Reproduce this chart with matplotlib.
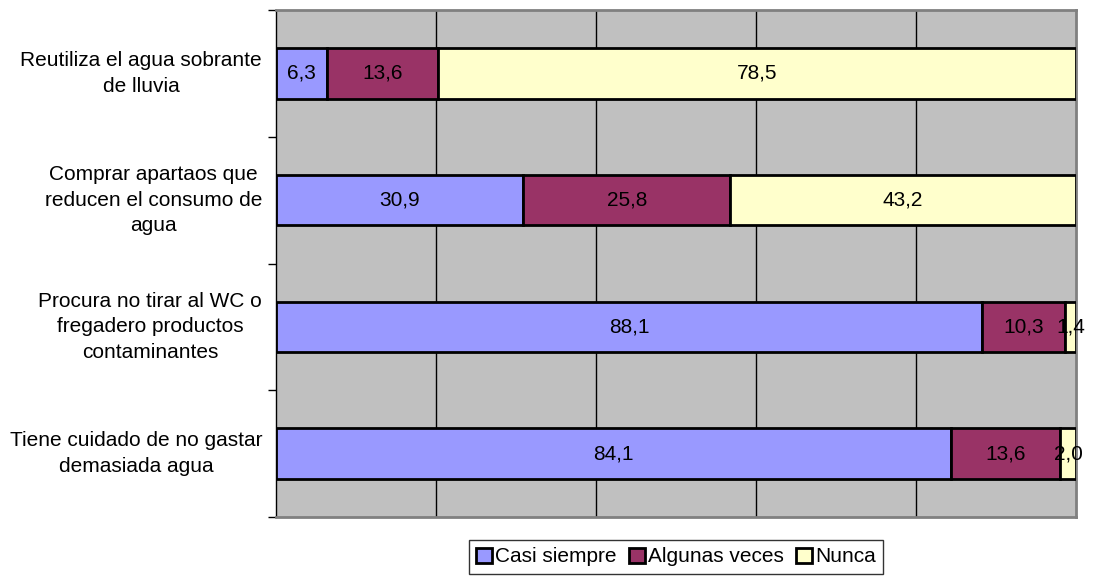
import matplotlib.pyplot as plt
import numpy as np

plt.rcParams['font.family'] = ['Liberation Sans', 'DejaVu Sans']

# preguntas (de arriba abajo)
categorias = ['Reutiliza el agua sobrante\nde lluvia',
              'Comprar apartaos que\nreducen el consumo de\nagua',
              'Procura no tirar al WC o\nfregadero productos\ncontaminantes',
              'Tiene cuidado de no gastar\ndemasiada agua']
casi_siempre = [6.3, 30.9, 88.1, 84.1]
algunas_veces = [13.6, 25.8, 10.3, 13.6]
nunca = [78.5, 43.2, 1.4, 2.0]
series = ['Casi siempre', 'Algunas veces', 'Nunca']
colores = ['#9999FF', '#993366', '#FFFFCC']

datos = np.array([casi_siempre, algunas_veces, nunca])
total = datos.sum(axis=0)
pct = datos / total * 100

fig = plt.figure(figsize=(11, 5.77), dpi=100)
ax = fig.add_axes([276 / 1100, 60 / 577, 800 / 1100, 507 / 577])
ax.set_facecolor('#C0C0C0')

y = np.arange(len(categorias))
izq = np.zeros(len(categorias))
for i in range(3):
    barras = ax.barh(y, pct[i], left=izq, height=0.4, color=colores[i],
                     edgecolor='black', linewidth=2, label=series[i], zorder=3)
    for j, b in enumerate(barras):
        txt = f'{datos[i][j]:.1f}'.replace('.', ',')
        ax.text(izq[j] + pct[i][j] / 2, y[j], txt, ha='center', va='center',
                fontsize=15, color='black', zorder=4)
    izq += pct[i]

ax.set_xlim(0, 100)
ax.set_ylim(len(categorias) - 0.5, -0.5)
ax.set_xticks([20, 40, 60, 80])
ax.xaxis.grid(True, color='black', linewidth=1)
ax.tick_params(axis='x', length=0, labelbottom=False)

# marcas en los limites, etiquetas en el centro
ax.set_yticks(np.arange(-0.5, len(categorias), 1))
ax.set_yticklabels([])
ax.set_yticks(y, minor=True)
ax.set_yticklabels(categorias, minor=True, fontsize=15, multialignment='center',
                   linespacing=1.45, va='center')
ax.tick_params(axis='y', which='major', length=6, width=1, direction='out')
ax.tick_params(axis='y', which='minor', length=0, pad=10)

for lado in ['top', 'right', 'bottom']:
    ax.spines[lado].set_color('#808080')
    ax.spines[lado].set_linewidth(2)
ax.spines['left'].set_color('black')
ax.spines['left'].set_linewidth(1)

leg = fig.legend(loc='center', bbox_to_anchor=(676 / 1100, 1 - 557 / 577), ncol=3,
                 fontsize=15, frameon=True, fancybox=False, handlelength=0.75,
                 handleheight=0.75, handletextpad=0.15, columnspacing=0.6,
                 borderpad=0.35)
leg.get_frame().set_edgecolor('black')
leg.get_frame().set_linewidth(1)
for h in leg.legend_handles:
    h.set_linewidth(2)

fig.savefig('out.png', dpi=100)
